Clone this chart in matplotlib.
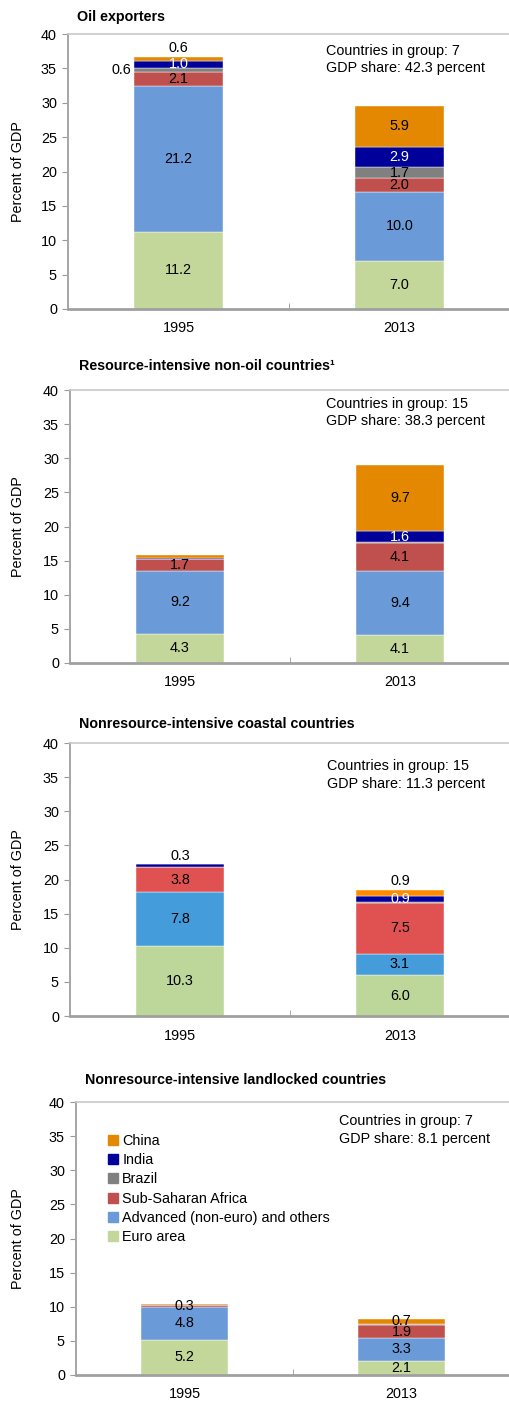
import numpy as np
import matplotlib
matplotlib.use('Agg')
import matplotlib.pyplot as plt
from matplotlib.patches import Patch

plt.rcParams['font.family'] = ['Liberation Sans', 'DejaVu Sans']
plt.rcParams['font.size'] = 10.4

years = ['1995', '2013']
series = ['Euro area', 'Advanced (non-euro) and others', 'Sub-Saharan Africa',
          'Brazil', 'India', 'China']
titles = ['Oil exporters', 'Resource-intensive non-oil countries\u00b9',
          'Nonresource-intensive coastal countries',
          'Nonresource-intensive landlocked countries']
countries_in_group = [7, 15, 15, 7]
gdp_share = [42.3, 38.3, 11.3, 8.1]

# rows follow `series`, columns follow `years`
oil_exporters = [[11.2, 7.0], [21.2, 10.0], [2.1, 2.0], [0.6, 1.7], [1.0, 2.9], [0.6, 5.9]]
resource_nonoil = [[4.3, 4.1], [9.2, 9.4], [1.7, 4.1], [0.1, 0.1], [0.1, 1.6], [0.4, 9.7]]
coastal = [[10.3, 6.0], [7.8, 3.1], [3.8, 7.5], [0.0, 0.1], [0.3, 0.9], [0.05, 0.9]]
landlocked = [[5.2, 2.1], [4.8, 3.3], [0.3, 1.9], [0.0, 0.1], [0.0, 0.1], [0.1, 0.7]]
panels = [oil_exporters, resource_nonoil, coastal, landlocked]

# segments not printed in the original, or printed outside the bar
label_mode = {
    (0, 3, 0): 'left', (0, 5, 0): 'above',
    (1, 3, 0): 'none', (1, 4, 0): 'none', (1, 5, 0): 'none', (1, 3, 1): 'none',
    (2, 3, 0): 'none', (2, 5, 0): 'none', (2, 3, 1): 'none',
    (2, 4, 0): 'above', (2, 5, 1): 'above',
    (3, 3, 0): 'none', (3, 4, 0): 'none', (3, 5, 0): 'none',
    (3, 3, 1): 'none', (3, 4, 1): 'none',
}

colors = ['#C4D79B', '#6A9BD8', '#C0504D', '#808080', '#00009B', '#E38800']
colors_coastal = ['#BDD79A', '#459CDB', '#E05252', '#808080', '#00009B', '#FF8C00']

W, H = 510, 1404
# axes boxes in pixels: left, top, bottom
boxes = [(68, 34, 309), (70, 390, 663), (70, 743, 1016), (76, 1102, 1375)]
title_gap = [17, 24, 19, 22]
note_pos = [(0.584, 0.965), (0.582, 0.975), (0.584, 0.94), (0.606, 0.955)]

fig = plt.figure(figsize=(W / 100, H / 100), dpi=100)

for p, data in enumerate(panels):
    l, t, b = boxes[p]
    ax = fig.add_axes([l / W, 1 - b / H, (W - l) / W, (b - t) / H])
    vals = np.array(data)
    pal = colors_coastal if p == 2 else colors
    x = np.arange(len(years))
    bottom = np.zeros(len(years))
    for s in range(len(series)):
        ax.bar(x, vals[s], 0.4, bottom=bottom, color=pal[s],
               edgecolor='white', linewidth=0.3, label=series[s])
        for j in range(len(years)):
            v = vals[s, j]
            mode = label_mode.get((p, s, j), 'in')
            txt = f'{v:.1f}'
            if mode == 'in':
                ax.text(x[j], bottom[j] + v / 2, txt, ha='center', va='center',
                        color='white' if s == 4 else 'black')
            elif mode == 'left':
                ax.annotate(txt, (x[j] - 0.2, bottom[j] + v / 2), xytext=(-2, 0),
                            textcoords='offset points', ha='right', va='center')
            elif mode == 'above':
                top = vals[:, j].sum()
                ax.annotate(txt, (x[j], top), xytext=(0, 1),
                            textcoords='offset points', ha='center', va='bottom')
        bottom += vals[s]

    ax.set_xlim(-0.5, 1.5)
    ax.set_ylim(0, 40)
    ax.set_yticks(range(0, 41, 5))
    ax.set_xticks(x)
    ax.set_xticklabels(years)
    ax.set_xticks([-0.5, 0.5, 1.5], minor=True)
    ax.tick_params(axis='x', which='major', length=0, pad=9)
    ax.tick_params(axis='x', which='minor', direction='in', length=4, color='#999999')
    ax.tick_params(axis='y', length=4, color='#999999', pad=4)
    ax.set_ylabel('Percent of GDP')
    ax.yaxis.set_label_coords(-(l - 25) / (W - l), 0.5)
    ax.spines['right'].set_visible(False)
    ax.spines['top'].set_color('#C8C8C8')
    ax.spines['top'].set_linewidth(1.2)
    ax.spines['left'].set_color('#A6A6A6')
    ax.spines['left'].set_linewidth(1.4)
    ax.spines['bottom'].set_color('#A0A0A0')
    ax.spines['bottom'].set_linewidth(2)

    ax.annotate(titles[p], (0.02, 1), xycoords='axes fraction',
                xytext=(0, title_gap[p] * 0.72), textcoords='offset points',
                ha='left', va='center', fontweight='bold', fontsize=10.3)
    ax.text(note_pos[p][0], note_pos[p][1],
            f'Countries in group: {countries_in_group[p]}\nGDP share: {gdp_share[p]} percent',
            transform=ax.transAxes, ha='left', va='top', linespacing=1.3)

    if p == 3:
        handles = [Patch(color=pal[s], label=series[s]) for s in range(len(series))][::-1]
        ax.legend(handles=handles, loc='upper left', bbox_to_anchor=(0.06, 0.905),
                  frameon=False, handlelength=0.7, handleheight=0.7,
                  handletextpad=0.3, labelspacing=0.37, borderaxespad=0)

fig.savefig('out.png', dpi=100)
